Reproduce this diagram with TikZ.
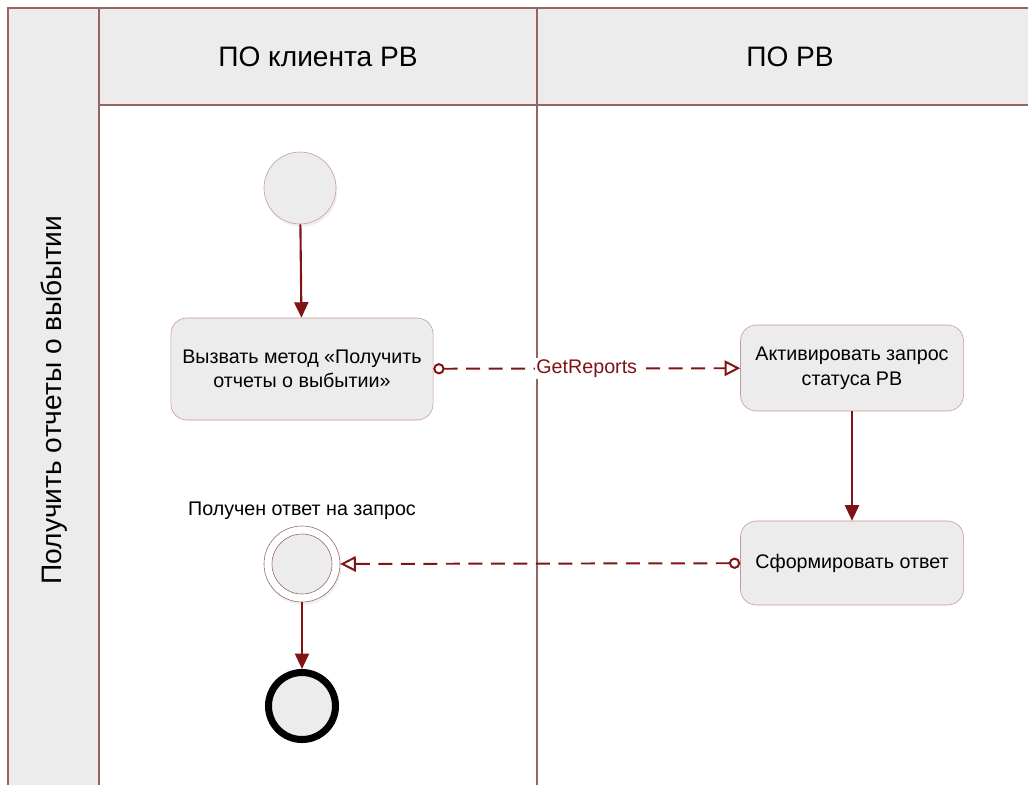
\documentclass[tikz,border=0pt]{standalone}
\usepackage{fontspec}
\setmainfont{Liberation Sans}
\usetikzlibrary{arrows.meta,shadows}
\definecolor{laneline}{RGB}{150,100,100}
\definecolor{boxline}{RGB}{200,150,150}
\definecolor{lanefill}{RGB}{236,236,236}
\definecolor{flowred}{RGB}{128,20,20}

\begin{document}
\begin{tikzpicture}[x=0.025cm,y=-0.025cm,
  font=\fontsize{14}{17.5}\selectfont,
  lane/.style={draw=laneline,line width=1pt},
  headtext/.style={font=\fontsize{20}{24}\selectfont},
  act/.style={draw=boxline,fill=lanefill,rounded corners=0.4cm,align=center,inner sep=2pt},
  state/.style={circle,draw=boxline,fill=lanefill,minimum size=1.8cm,inner sep=0pt,
    drop shadow={opacity=0.12,shadow xshift=1pt,shadow yshift=-2pt}},
  flow/.style={draw=flowred,line width=1.5pt,-{Triangle[length=11pt,width=10pt]}},
  msg/.style={draw=flowred,line width=1.4pt,dash pattern=on 10pt off 6pt,
    {Circle[open,length=8pt,width=8pt]}-{Triangle[open,length=11pt,width=11pt]}}]
\useasboundingbox (0,0) rectangle (1028,785);
% pool and lanes
\fill[lanefill] (8,8) rectangle (99,785);
\fill[lanefill] (99,8) rectangle (1028,105);
\draw[lane] (8,785) -- (8,8) -- (1028,8);
\draw[lane] (99,8) -- (99,785);
\draw[lane] (99,105) -- (1028,105);
\draw[lane] (537,8) -- (537,785);
\node[headtext,rotate=90] (pool) at (54,400) {Получить отчеты о выбытии};
\node[headtext] (laneclient) at (318,57) {ПО клиента РВ};
\node[headtext] (laneserver) at (790,57) {ПО РВ};
% activities
\node[state] (start) at (300,188) {};
\node[act,minimum width=6.55cm,minimum height=2.55cm] (call) at (302,369)
  {Вызвать метод «Получить\\отчеты о выбытии»};
\node[act,minimum width=5.575cm,minimum height=2.15cm] (activate) at (852,368)
  {Активировать запрос\\статуса РВ};
\node[act,minimum width=5.575cm,minimum height=2.1cm] (reply) at (852,563)
  {Сформировать ответ};
\node[state,draw=laneline,fill=white,minimum size=1.9cm] (recv) at (302,564) {};
\node[circle,draw=laneline,fill=lanefill,minimum size=1.5cm,inner sep=0pt] (recvin) at (recv) {};
\node (recvlabel) at (302,511) {Получен ответ на запрос};
\node[state,draw=black,line width=5pt,minimum size=1.675cm] (finish) at (302,706) {};
% flows
\draw[flow] (start) -- (call);
\draw[msg] (call) -- node[fill=white,inner sep=1pt,text=flowred] (getreports) {GetReports} (activate);
\draw[flow] (activate) -- (reply);
\draw[msg] (reply) -- (recv);
\draw[flow] (recv) -- (finish);
\end{tikzpicture}
\end{document}
